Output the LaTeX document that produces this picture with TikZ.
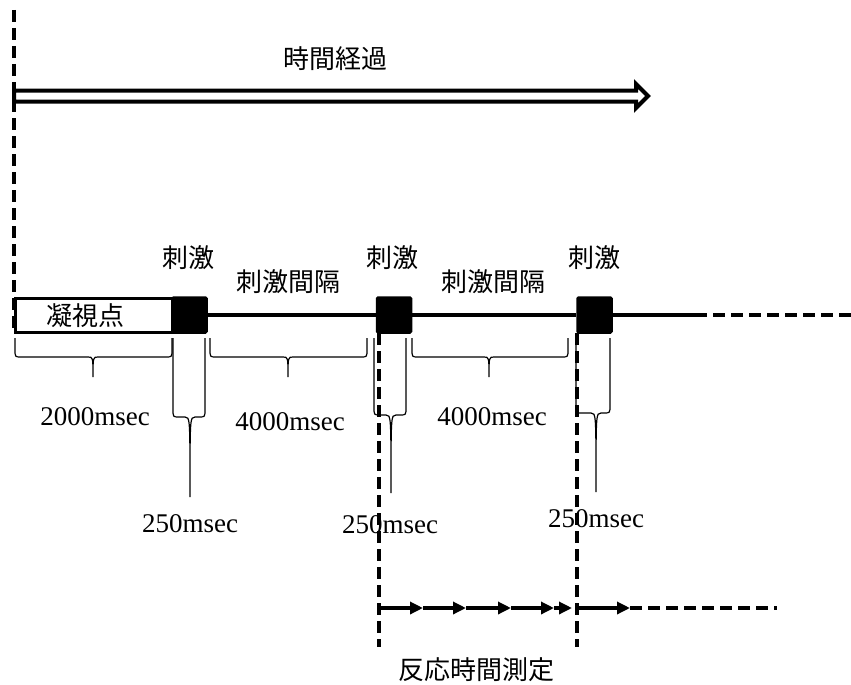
\documentclass[tikz,border=0pt]{standalone}
\usepackage{fontspec}
\setmainfont{Liberation Serif}
\newfontfamily\jp{Noto Sans CJK JP}
\usetikzlibrary{arrows.meta}
\newcommand\tbr[6]{\draw[bracepath] (#1,#3) -- (#1,{#4-8}) .. controls (#1,#4) .. ({#1+6},#4) -- ({#5-5},#4) .. controls (#5,#4) .. (#5,#6) .. controls (#5,#4) .. ({#5+5},#4) -- ({#2-6},#4) .. controls (#2,#4) .. (#2,{#4-8}) -- (#2,#3);}
\begin{document}
\begin{tikzpicture}[x=1pt,y=-1pt,
  jptext/.style={font=\jp\fontsize{26}{30}\selectfont, inner sep=0pt},
  mstext/.style={font=\fontsize{27}{30}\selectfont, inner sep=0pt, anchor=base},
  vdash/.style={line width=4pt, dash pattern=on 12pt off 6pt},
  tline/.style={line width=3.5pt},
  bracepath/.style={line width=1.2pt},
  stimbox/.style={draw, fill=black, line width=1.5pt, rounded corners=1.5pt, minimum width=35pt, minimum height=36pt, inner sep=0pt},
  fixbox/.style={draw, fill=white, line width=3pt, minimum width=157pt, minimum height=34pt, inner sep=0pt},
  rtarrow/.style={line width=4pt, -{Triangle[length=13pt,width=12pt]}},
]
\useasboundingbox (0,0) rectangle (851,685);

% time elapse arrow
\node[jptext] (elapse) at (335,59) {時間経過};
\draw[line width=4pt, fill=white, line join=miter] (14,90.5) -- (636,90.5) -- (636,84) -- (648,96) -- (636,108) -- (636,101.5) -- (14,101.5) -- cycle;

% left dashed line
\coordinate (ltop) at (14,10);
\coordinate (lbot) at (14,333);
\draw[vdash] (ltop) -- (lbot);

% timeline
\node[fixbox] (fix) at (93.5,315) {};
\node[jptext] (fixlbl) at (85,316) {凝視点};
\node[stimbox] (s1) at (189.5,315) {};
\node[stimbox] (s2) at (394,315) {};
\node[stimbox] (s3) at (594.5,315) {};
\coordinate (tsolid) at (695,315);
\coordinate (tend) at (851,315);
\draw[tline] (s1.east) -- (s2.west);
\draw[tline] (s2.east) -- (s3.west);
\draw[tline] (s3.east) -- (tsolid);
\draw[tline, dash pattern=on 12pt off 6pt] (tsolid) -- (tend);

% labels above
\node[jptext] (st1) at (188,258) {刺激};
\node[jptext] (st2) at (392,258) {刺激};
\node[jptext] (st3) at (594,258) {刺激};
\node[jptext] (isi1) at (288,282) {刺激間隔};
\node[jptext] (isi2) at (493,282) {刺激間隔};

% braces
\tbr{15}{172}{338}{357}{93}{377}
\tbr{210}{367}{338}{357}{288}{377}
\tbr{412}{568}{338}{357}{489}{377}
\tbr{173}{205}{338}{417}{190}{497}
\tbr{374}{406}{338}{415}{391}{493}
\tbr{576}{610}{338}{413}{596}{492}

% durations
\node[mstext] (d1) at (95,425) {2000msec};
\node[mstext] (d2) at (290,430) {4000msec};
\node[mstext] (d3) at (492,425) {4000msec};
\node[mstext] (d4) at (190,532) {250msec};
\node[mstext] (d5) at (390,533) {250msec};
\node[mstext] (d6) at (596,527) {250msec};

% reaction time measurement
\coordinate (r1top) at (379,333);
\coordinate (r1bot) at (379,647);
\coordinate (r2top) at (577,333);
\coordinate (r2bot) at (577,647);
\draw[vdash] (r1top) -- (r1bot);
\draw[vdash] (r2top) -- (r2bot);

\coordinate (a0) at (379,608);
\coordinate (a1) at (423,608);
\coordinate (a2) at (466,608);
\coordinate (a3) at (511,608);
\coordinate (a4) at (554,608);
\coordinate (a5) at (572,608);
\coordinate (b0) at (579,608);
\coordinate (b1) at (630,608);
\coordinate (b2) at (777,608);
\draw[rtarrow] (a0) -- (a1);
\draw[rtarrow] (a1) -- (a2);
\draw[rtarrow] (a2) -- (a3);
\draw[rtarrow] (a3) -- (a4);
\draw[rtarrow] (a4) -- (a5);
\draw[rtarrow] (b0) -- (b1);
\draw[line width=4pt, dash pattern=on 12pt off 6pt] (b1) -- (b2);

\node[jptext] (rt) at (476,670) {反応時間測定};
\end{tikzpicture}
\end{document}
